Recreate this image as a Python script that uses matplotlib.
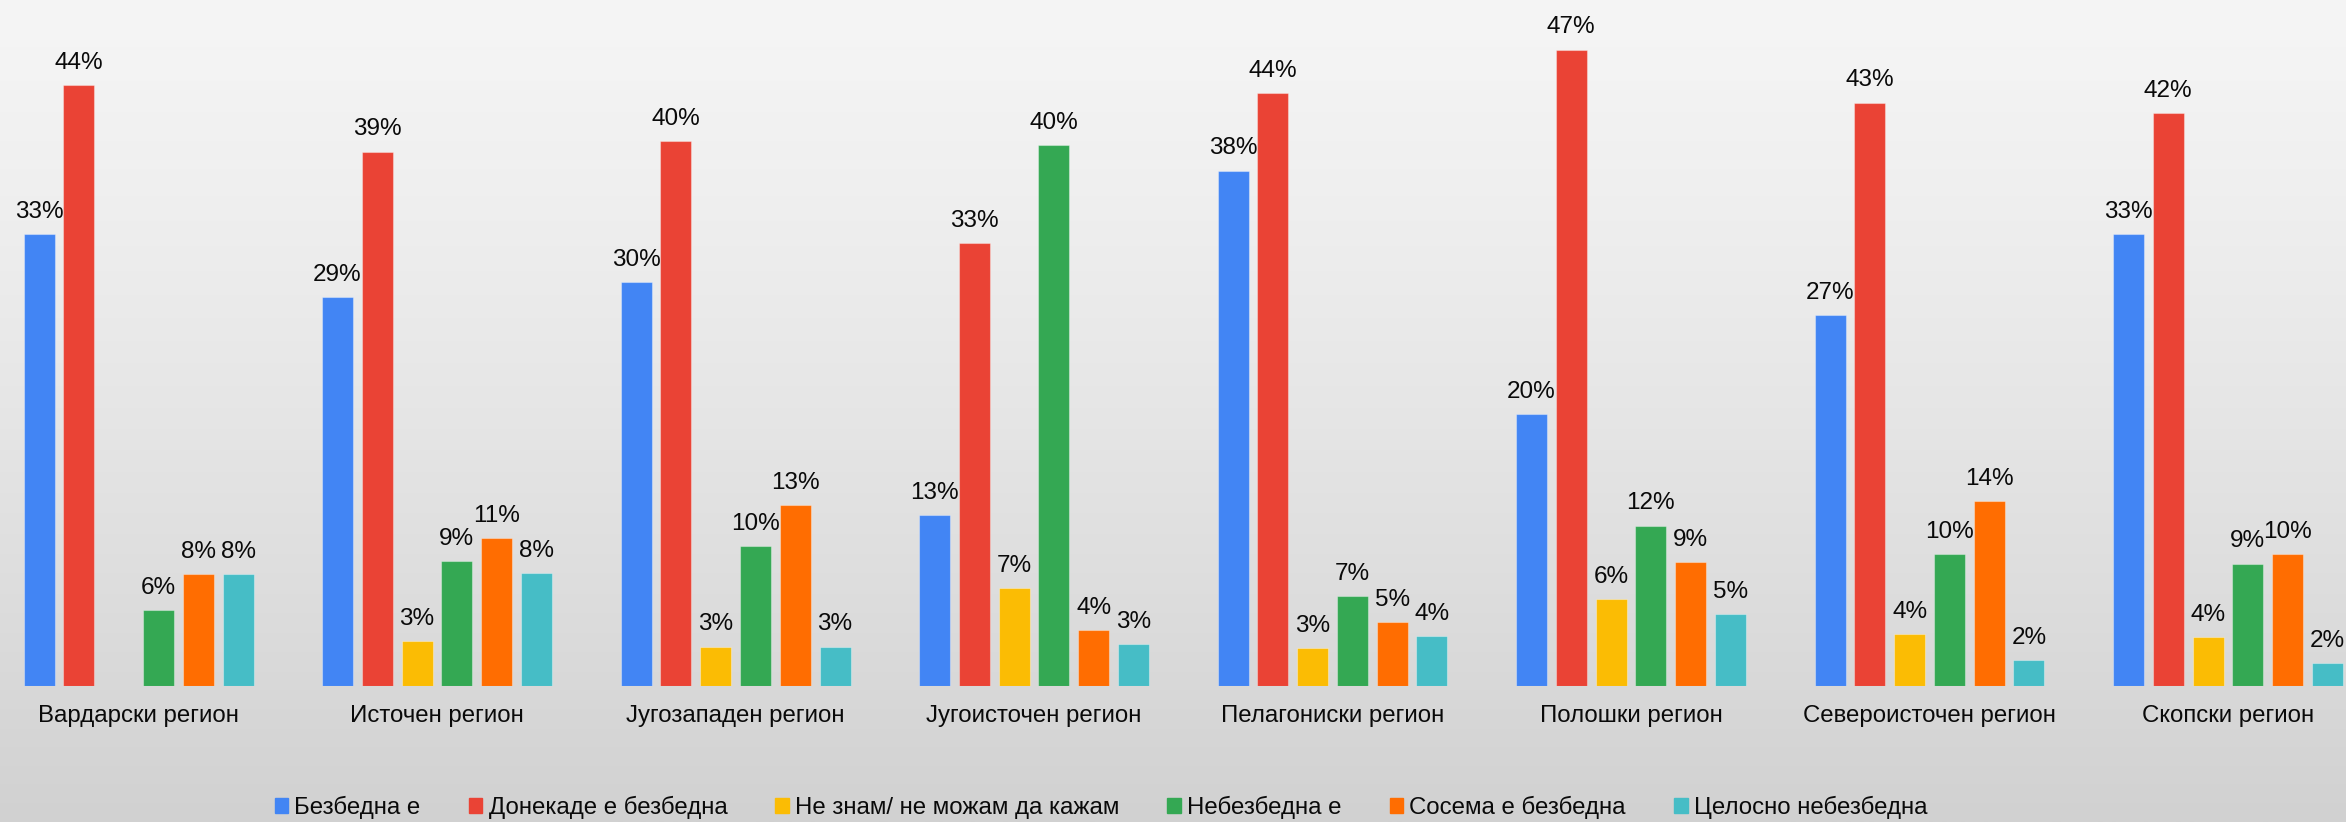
import numpy as np
import matplotlib
matplotlib.use("Agg")
import matplotlib.pyplot as plt
from matplotlib.patches import Rectangle

plt.rcParams['font.family'] = ['Liberation Sans', 'DejaVu Sans']

regions = ["Вардарски регион", "Источен регион", "Југозападен регион", "Југоисточен регион",
           "Пелагониски регион", "Полошки регион", "Североисточен регион", "Скопски регион"]
series_names = ["Безбедна е", "Донекаде е безбедна", "Не знам/ не можам да кажам",
                "Небезбедна е", "Сосема е безбедна", "Целосно небезбедна"]
colors = ["#4285F4", "#EA4335", "#FBBC04", "#34A853", "#FF6D01", "#46BDC6"]

bezbedna      = [33.2, 28.6, 29.7, 12.6, 37.9, 20.0, 27.3, 33.2]
donekade      = [44.2, 39.3, 40.1, 32.6, 43.6, 46.8, 42.9, 42.1]
ne_znam       = [0.0, 3.3, 2.9, 7.2, 2.8, 6.4, 3.8, 3.6]
nebezbedna    = [5.6, 9.2, 10.3, 39.8, 6.6, 11.8, 9.7, 9.0]
sosema        = [8.2, 10.9, 13.3, 4.1, 4.7, 9.1, 13.6, 9.7]
celosno       = [8.2, 8.3, 2.9, 3.1, 3.7, 5.3, 1.9, 1.7]
series = [bezbedna, donekade, ne_znam, nebezbedna, sosema, celosno]

W, H = 2346, 822
fig = plt.figure(figsize=(W / 100, H / 100), dpi=100)

# background gradient
bg = fig.add_axes([0, 0, 1, 1], zorder=-10)
t = np.linspace(0, 1, 400)[:, None]
top, bot = 0xf5 / 255, 0xd1 / 255
g = top - (top - bot) * t ** 1.25
img = np.repeat(g, 2, axis=1)
bg.imshow(np.dstack([img, img, img]), aspect='auto', extent=[0, 1, 0, 1], origin='upper')
bg.axis('off')

base_px = 686
ax = fig.add_axes([0, (H - base_px) / H, 1, base_px / H])
ax.patch.set_alpha(0)
px_per_pct = 13.6
ax.set_ylim(0, base_px / px_per_pct)
group_px = 298.5
c0 = 138.5
ax.set_xlim(-c0 / group_px, (W - c0) / group_px)

x = np.arange(len(regions))
step = 39.8 / group_px
width = 31.0 / group_px
for j, (vals, col, name) in enumerate(zip(series, colors, series_names)):
    xs = x + (j - 2.5) * step
    ax.bar(xs, vals, width=width, color=col, label=name,
           edgecolor=(1, 1, 1, 0.35), linewidth=0.8)
    for xi, v in zip(xs, vals):
        if v > 0:
            ax.annotate(f"{v:.0f}%", (xi, v), xytext=(0, 8), textcoords='offset points',
                        ha='center', va='bottom', fontsize=17.5, color='#0a0a0a')

for i, r in enumerate(regions):
    ax.text(x[i], -(716 - base_px) / px_per_pct, r, ha='center', va='center',
            fontsize=17.3, color='#0a0a0a')

ax.axis('off')

handles = [Rectangle((0, 0), 1, 1, color=c) for c in colors]
fig.legend(handles, series_names, loc='center', bbox_to_anchor=(0.4693, 0.018),
           ncol=6, frameon=False, fontsize=17.3, handlelength=0.57, handleheight=0.57,
           handletextpad=0.25, columnspacing=2.0, labelcolor='#0a0a0a')

fig.savefig("out.png", dpi=100)
